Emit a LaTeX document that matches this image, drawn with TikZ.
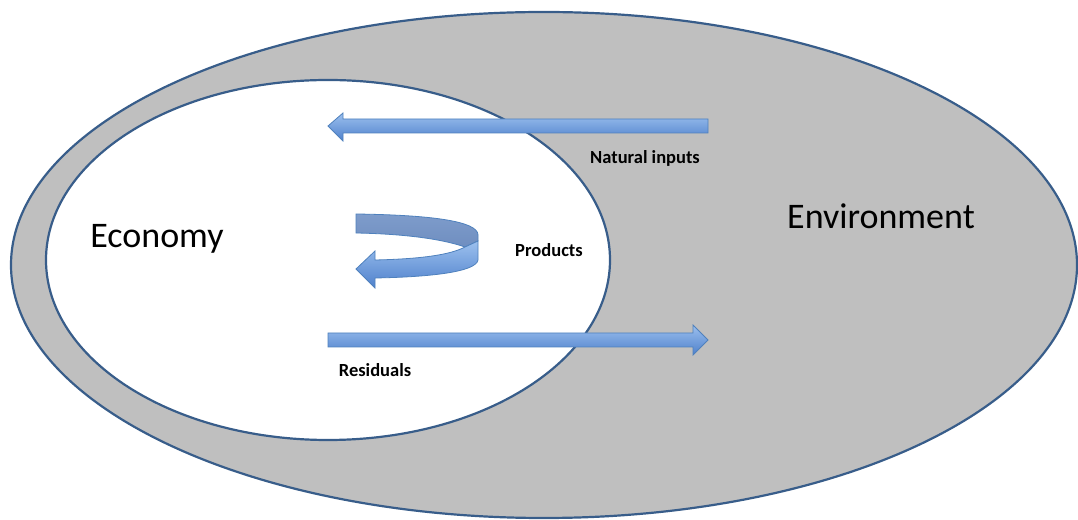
\documentclass[tikz,border=0pt]{standalone}
\usepackage{fontspec}
\setmainfont{Carlito}
\definecolor{rim}{HTML}{385D8A}
\definecolor{envfill}{HTML}{BFBFBF}
\definecolor{arrtop}{HTML}{9CC0EE}
\definecolor{arrbot}{HTML}{4F81CC}
\definecolor{arrline}{HTML}{4F81BD}
\definecolor{backtop}{HTML}{7E9CCB}
\definecolor{backbot}{HTML}{6F8EC0}
\tikzset{
  rimline/.style={draw=rim, line width=2.2pt},
  blockarrow/.style={draw=arrline, line width=0.8pt, top color=arrtop, bottom color=arrbot},
  backband/.style={draw=arrline, line width=0.8pt, top color=backtop, bottom color=backbot},
  bigtext/.style={font=\fontsize{36}{40}\selectfont, inner sep=0pt},
  smalltext/.style={font=\fontsize{18.5}{22}\selectfont\bfseries, inner sep=0pt},
}
\begin{document}
\begin{tikzpicture}[x=1pt,y=1pt]
\useasboundingbox (0,0) rectangle (1078,519);
\clip (0,0) rectangle (1078,519);
\fill[white] (0,0) rectangle (1078,519);
% environment
\draw[rimline, fill=envfill] (544,254) ellipse [x radius=533, y radius=253];
% economy
\draw[rimline, fill=white] (328,259) ellipse [x radius=282, y radius=180];
% natural inputs arrow
\path[blockarrow] (708,400) -- (343,400) -- (343,406) -- (328,393) -- (343,378) -- (343,386) -- (708,386) -- cycle;
% residuals arrow
\path[blockarrow] (328,186) -- (693,186) -- (693,194) -- (708,179) -- (693,164) -- (693,172) -- (328,172) -- cycle;
% products curved arrow (back band)
\path[backband] (356,305) .. controls (430,304) and (478,298) .. (478,284) -- (478,278) -- (465,272) .. controls (445,279) and (410,285) .. (356,286) -- cycle;
% front band
\path[blockarrow] (465,272) -- (478,278) -- (478,259) .. controls (476,247) and (430,242) .. (375,241) -- (375,231) -- (356,250) -- (375,268) -- (375,259) .. controls (420,260) and (450,264) .. (465,272) -- cycle;
% texts
\node[bigtext] (economy) at (157,280) {Economy};
\node[bigtext] (environment) at (881,303) {Environment};
\node[smalltext] (natural) at (645,361) {Natural inputs};
\node[smalltext] (products) at (549,269) {Products};
\node[smalltext] (residuals) at (375,149) {Residuals};
\end{tikzpicture}
\end{document}
